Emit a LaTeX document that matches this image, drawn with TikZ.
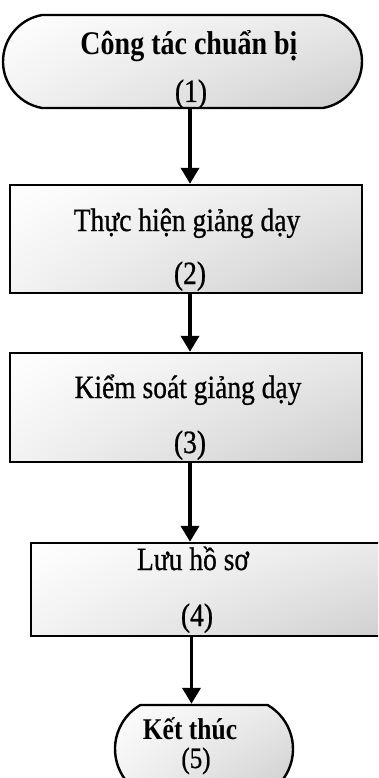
\documentclass[tikz,border=0pt]{standalone}
\usepackage{fontspec}
\setmainfont{Liberation Serif}
\newfontfamily\printserif[FakeBold=0.8]{Liberation Serif}
\usetikzlibrary{arrows.meta,shapes.misc,shadings}
% lettering of the chart is set slightly taller than wide
\newcommand{\vstretch}[1]{\scalebox{1}[1.18]{#1}}
\begin{document}
\begin{tikzpicture}[x=1pt,y=-1pt,
  flowline/.style={line width=2.4pt},
  shadefill/.style={shade, upper left=white, upper right=black!9,
                    lower left=black!5, lower right=black!20},
  stepbox/.style={draw, flowline, shadefill, rectangle, inner sep=0pt},
  term/.style={draw, flowline, shadefill, rounded rectangle, inner sep=0pt},
  conn/.style={line width=3.6pt, -{Triangle[width=18pt,length=16pt]}},
  lbl/.style={anchor=base, inner sep=0pt, font=\printserif\fontsize{27.5}{30}\selectfont},
  lblbold/.style={anchor=base, inner sep=0pt, font=\bfseries\fontsize{28}{30}\selectfont},
  lblsmall/.style={anchor=base, inner sep=0pt, font=\printserif\fontsize{25}{28}\selectfont},
  lblsmallbold/.style={anchor=base, inner sep=0pt, font=\bfseries\fontsize{25.5}{28}\selectfont},
]
\useasboundingbox (0,0) rectangle (378,778);
\clip (0,0) rectangle (378,778);

% shapes of the flow
\node[term, rounded rectangle arc length=160, minimum width=359pt, minimum height=93pt] (t1) at (182.5,61.5) {};
\node[stepbox, minimum width=352pt, minimum height=108pt] (b2) at (186,239) {};
\node[stepbox, minimum width=352pt, minimum height=109pt] (b3) at (186,407.5) {};
\node[stepbox, minimum width=389pt, minimum height=93pt] (b4) at (225.5,589.5) {};
\node[term, rounded rectangle arc length=120, minimum width=178pt, minimum height=88pt] (t5) at (204,749) {};

% texts
\node[lblbold] (t1a) at (189,55) {\vstretch{Công tác chuẩn bị}};
\node[lbl] (t1b) at (191,102) {\vstretch{(1)}};
\node[lbl] (b2a) at (187,231) {\vstretch{Thực hiện giảng dạy}};
\node[lbl] (b2b) at (190,284) {\vstretch{(2)}};
\node[lbl] (b3a) at (188,398) {\vstretch{Kiểm soát giảng dạy}};
\node[lbl] (b3b) at (190,453) {\vstretch{(3)}};
\node[lbl] (b4a) at (193,570) {\vstretch{Lưu hồ sơ}};
\node[lbl] (b4b) at (197,626) {\vstretch{(4)}};
\node[lblsmallbold] (t5a) at (190,739) {\vstretch{Kết thúc}};
\node[lblsmall] (t5b) at (196,768) {\vstretch{(5)}};

% connectors along the flow axis
\coordinate (axis) at (190,0);
\coordinate (axis2) at (191.5,0);
\draw[conn] (axis |- t1.south) -- (axis |- b2.north);
\draw[conn] (axis |- b2.south) -- (axis |- b3.north);
\draw[conn] (axis |- b3.south) -- (axis |- b4.north);
\draw[conn] (axis2 |- b4.south) -- (axis2 |- t5.north);
\end{tikzpicture}
\end{document}
